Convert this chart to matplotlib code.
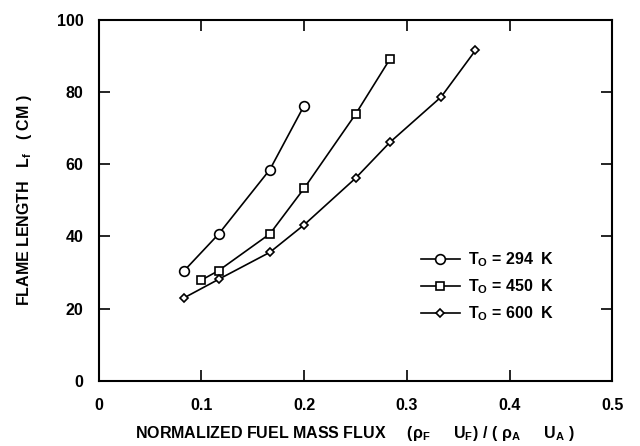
import numpy as np
import matplotlib
matplotlib.use("Agg")
import matplotlib.pyplot as plt

plt.rcParams['font.family'] = ['Liberation Sans', 'DejaVu Sans']
plt.rcParams['font.weight'] = 'bold'
plt.rcParams['axes.labelweight'] = 'bold'
plt.rcParams['mathtext.fontset'] = 'custom'
plt.rcParams['mathtext.rm'] = 'Liberation Sans:bold'
plt.rcParams['mathtext.it'] = 'Liberation Sans:bold'
plt.rcParams['mathtext.bf'] = 'Liberation Sans:bold'

# Données
x_294 = [0.0833, 0.1167, 0.1667, 0.2000]
y_294 = [30.5, 40.6, 58.5, 76.2]

x_450 = [0.1000, 0.1167, 0.1667, 0.2000, 0.2500, 0.2833]
y_450 = [27.9, 30.5, 40.7, 53.3, 73.8, 89.0]

x_600 = [0.0833, 0.1167, 0.1667, 0.2000, 0.2500, 0.2833, 0.3333, 0.3667]
y_600 = [23.0, 28.1, 35.6, 43.2, 56.1, 66.0, 78.6, 91.5]

labels = ['T$_\\mathregular{O}$ = 294  K', 'T$_\\mathregular{O}$ = 450  K', 'T$_\\mathregular{O}$ = 600  K']
xticks = [0, 0.1, 0.2, 0.3, 0.4, 0.5]
xtick_labels = ['0', '0.1', '0.2', '0.3', '0.4', '0.5']
yticks = [0, 20, 40, 60, 80, 100]

fig = plt.figure(figsize=(6.4, 4.46), dpi=100)
ax = fig.add_axes([0.154, 0.146, 0.803, 0.810])

style = dict(color='black', linewidth=1.2, markerfacecolor='white', markeredgecolor='black', markeredgewidth=1.2)
ax.plot(x_294, y_294, marker='o', markersize=7, label=labels[0], **style)
ax.plot(x_450, y_450, marker='s', markersize=6, label=labels[1], **style)
ax.plot(x_600, y_600, marker='D', markersize=4.5, label=labels[2], **style)

ax.set_xlim(0, 0.5)
ax.set_ylim(0, 100)
ax.set_xticks(xticks)
ax.set_xticklabels(xtick_labels)
ax.set_yticks(yticks)
ax.tick_params(direction='in', top=True, right=True, length=8, width=1.2,
               labelsize=11.5)
ax.tick_params(axis='x', pad=12)
ax.tick_params(axis='y', pad=11)
for s in ax.spines.values():
    s.set_linewidth(1.5)

ax.set_xlabel(r'NORMALIZED FUEL MASS FLUX     $(\rho_\mathregular{F}\quad\ \ \mathregular{U}_\mathregular{F})\ /\ (\ \rho_\mathregular{A}\quad\ \ \mathregular{U}_\mathregular{A}\ )$',
              fontsize=11.5, labelpad=8)
ax.set_ylabel(r'FLAME LENGTH   L$_\mathregular{f}$   ( CM )', fontsize=11.5, labelpad=16)

ax.legend(loc='upper left', bbox_to_anchor=(0.6, 0.40), frameon=False,
          fontsize=11.5, handlelength=2.4, labelspacing=0.5, handletextpad=0.5)

fig.savefig('out.png', dpi=100)
